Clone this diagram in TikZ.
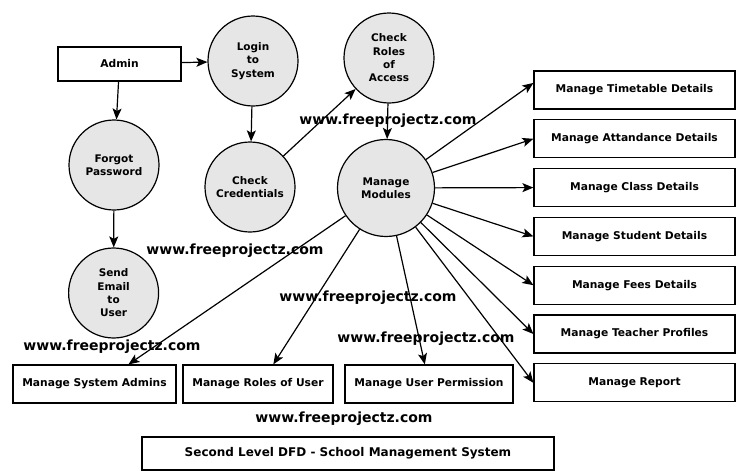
\documentclass[tikz,border=0pt]{standalone}
\usepackage{fontspec}
\setmainfont{DejaVu Sans}
\usetikzlibrary{arrows.meta, positioning}

\definecolor{procgray}{HTML}{E6E6E6}
\tikzset{
  process/.style={circle, draw, fill=procgray, minimum size=90pt, inner sep=0pt,
    align=center, font=\bfseries\fontsize{10.5}{13.3}\selectfont},
  entity/.style={rectangle, draw, minimum height=38pt, inner sep=0pt,
    align=center, font=\bfseries\fontsize{10.7}{12}\selectfont},
  watermark/.style={font=\bfseries\fontsize{14}{16}\selectfont}
}

\begin{document}
\begin{tikzpicture}[x=1pt,y=-1pt,line width=1.2pt,>={Stealth[length=11pt,width=9pt,inset=2.5pt]},node distance=48.8pt,on grid]
\useasboundingbox (0,0) rectangle (747,474);

\node[entity, minimum width=123pt, minimum height=34pt] (admin) at (119.5,64) {Admin};
\node[process] (login) at (253,61) {Login\\to\\System};
\node[process] (forgot) at (114,165) {Forgot\\Password};
\node[process] (send) at (113.6,293) {Send\\Email\\to\\User};
\node[process] (cred) at (250,187) {Check\\Credentials};
\node[process] (roles) at (389,58) {Check\\Roles\\of\\Access};
\node[process, minimum size=97pt] (modules) at (386,188) {Manage\\Modules};

% right column
\node[entity, minimum width=201pt] (timetable) at (634.5,90) {Manage Timetable Details};
\node[entity, minimum width=201pt] (attend) [below=of timetable] {Manage Attandance Details};
\node[entity, minimum width=201pt] (class) [below=of attend] {Manage Class Details};
\node[entity, minimum width=201pt] (student) [below=of class] {Manage Student Details};
\node[entity, minimum width=201pt] (fees) [below=of student] {Manage Fees Details};
\node[entity, minimum width=201pt] (teacher) [below=of fees] {Manage Teacher Profiles};
\node[entity, minimum width=201pt] (report) [below=of teacher] {Manage Report};

% bottom row
\node[entity, minimum width=163pt] (sysadmin) at (94.5,384) {Manage System Admins};
\node[entity, minimum width=150pt] (userroles) at (258,384) {Manage Roles of User};
\node[entity, minimum width=168pt] (userperm) at (429,384) {Manage User Permission};
\node[entity, minimum width=412pt, minimum height=33pt, font=\bfseries\fontsize{12}{14}\selectfont] (title) at (348,453.5) {Second Level DFD - School Management System};

\foreach \x/\y [count=\i] in {388/121, 235/251, 368/298, 426/339, 112/347, 344/419}
  \node[watermark] (wm\i) at (\x,\y) {www.freeprojectz.com};

\path[->]
(admin) edge (login)
(admin) edge (forgot)
(forgot) edge (send)
(login) edge (cred)
(cred) edge (roles)
(roles) edge (modules)
(modules) edge (timetable.176)
(modules) edge (attend.west)
(modules) edge (class.west)
(modules) edge (student.west)
(modules) edge (fees.west)
(modules) edge (teacher.west)
(modules) edge (report.west)
(modules) edge (sysadmin.30)
(modules) edge (userroles.52)
(modules) edge (userperm.102);
\end{tikzpicture}
\end{document}
